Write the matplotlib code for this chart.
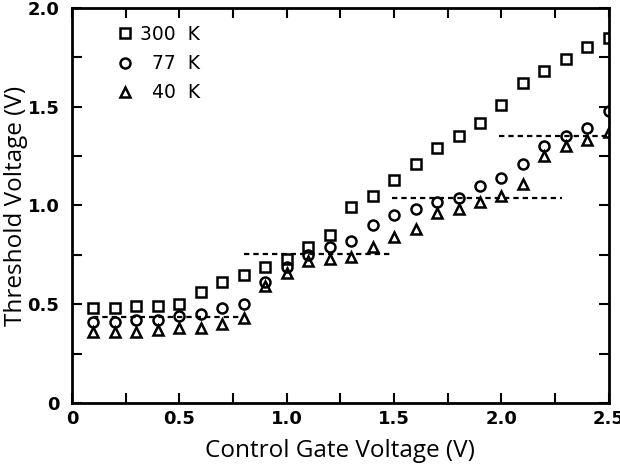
import numpy as np
import matplotlib
matplotlib.use('Agg')
import matplotlib.pyplot as plt
from matplotlib.ticker import MultipleLocator

# control gate voltage (V)
vcg = [0.1, 0.2, 0.3, 0.4, 0.5, 0.6, 0.7, 0.8, 0.9, 1.0, 1.1, 1.2, 1.3,
       1.4, 1.5, 1.6, 1.7, 1.8, 1.9, 2.0, 2.1, 2.2, 2.3, 2.4, 2.5]

# threshold voltage (V)
vt_300 = [0.48, 0.48, 0.49, 0.49, 0.50, 0.56, 0.61, 0.65, 0.69, 0.73, 0.79, 0.85, 0.99,
          1.05, 1.13, 1.21, 1.29, 1.35, 1.42, 1.51, 1.62, 1.68, 1.74, 1.80, 1.85]
vt_77 = [0.41, 0.41, 0.42, 0.42, 0.44, 0.45, 0.48, 0.50, 0.61, 0.69, 0.75, 0.79, 0.82,
         0.90, 0.95, 0.98, 1.02, 1.04, 1.10, 1.14, 1.21, 1.30, 1.35, 1.39, 1.48]
vt_40 = [0.36, 0.36, 0.36, 0.37, 0.38, 0.38, 0.40, 0.43, 0.59, 0.66, 0.72, 0.73, 0.74,
         0.79, 0.84, 0.88, 0.96, 0.98, 1.02, 1.05, 1.11, 1.25, 1.30, 1.33, 1.37]

# dotted step levels: (level, x start, x end)
step_level = [0.435, 0.755, 1.036, 1.352]
step_x0 = [0.10, 0.80, 1.49, 1.99]
step_x1 = [0.79, 1.49, 2.28, 2.50]

xtick_vals = [0, 0.5, 1.0, 1.5, 2.0, 2.5]
xtick_text = ['0', '0.5', '1.0', '1.5', '2.0', '2.5']
ytick_vals = [0, 0.5, 1.0, 1.5, 2.0]
ytick_text = ['0', '0.5', '1.0', '1.5', '2.0']

fig = plt.figure(figsize=(6.2, 4.68), dpi=100)
ax = fig.add_axes([0.116, 0.139, 0.866, 0.844])

ax.plot(vcg, vt_300, 's', ms=7.8, mfc='none', mec='black', mew=1.8, ls='none', label='300  K')
ax.plot(vcg, vt_77, 'o', ms=7.2, mfc='none', mec='black', mew=1.8, ls='none', label='  77  K')
ax.plot(vcg, vt_40, '^', ms=7.8, mfc='none', mec='black', mew=1.8, ls='none', label='  40  K')

for lv, a, b in zip(step_level, step_x0, step_x1):
    ax.plot([a, b], [lv, lv], color='black', lw=1.6, ls=(0, (2.4, 1.8)))

ax.set_xlim(0, 2.5)
ax.set_ylim(0, 2.0)
ax.xaxis.set_minor_locator(MultipleLocator(0.25))
ax.yaxis.set_minor_locator(MultipleLocator(0.25))
tick_font = dict(family='DejaVu Sans', fontweight='bold', fontsize=13)
ax.set_xticks(xtick_vals)
ax.set_xticklabels(xtick_text, **tick_font)
ax.set_yticks(ytick_vals)
ax.set_yticklabels(ytick_text, **tick_font)

ax.tick_params(which='both', direction='in', top=True, right=True, width=1.5, length=7)
ax.tick_params(axis='x', pad=5)
ax.tick_params(axis='y', pad=9)
for s in ax.spines.values():
    s.set_linewidth(2)

ax.set_xlabel('Control Gate Voltage (V)', fontsize=17.5, family='Open Sans', labelpad=8)
ax.set_ylabel('Threshold Voltage (V)', fontsize=17.5, family='Open Sans', labelpad=0)

ax.legend(loc='upper left', bbox_to_anchor=(0.05, 1.0), frameon=False, handletextpad=0.3,
          labelspacing=0.55, prop={'family': 'DejaVu Sans', 'size': 13.5}, handlelength=1.0)

plt.savefig('out.png', dpi=100)
